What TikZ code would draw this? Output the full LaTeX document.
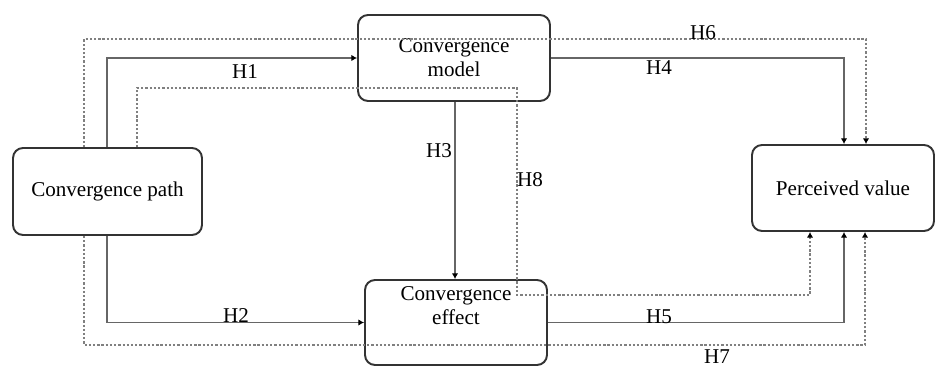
\documentclass[tikz,border=0pt]{standalone}
\usepackage{fontspec}
\setmainfont{Liberation Serif}
\usetikzlibrary{arrows.meta}

\begin{document}
\begin{tikzpicture}[x=0.02cm, y=-0.02cm, font=\fontsize{12}{13.7}\selectfont,
    >={Latex[length=3.2pt,width=3.6pt,black]},
    box/.style={draw=black!80, line width=1.1pt, rounded corners=0.2cm, align=center, inner sep=0pt},
    link/.style={draw=black!60, line width=.6pt},
    dotlink/.style={draw=black!50, line width=.6pt, dash pattern=on 1.3pt off 1.1pt}]
    \useasboundingbox (0,0) rectangle (936,367);
    % constructs
    \node[box, minimum width=3.78cm, minimum height=1.74cm] (path) at (107.5,191.5) {Convergence path};
    \node[box, minimum width=3.84cm, minimum height=1.72cm] (model) at (454,58) {Convergence\\model};
    \node[box, minimum width=3.64cm, minimum height=1.70cm] (effect) at (456,322.5) {};
    \node[align=center] (efftext) at (456,306) {Convergence\\effect};
    \node[box, minimum width=3.64cm, minimum height=1.72cm] (value) at (843,188) {Perceived value};
    % direct paths
    \draw[link,->] (path.north -| 107,0) |- (model.west);
    \draw[link,->] (path.south -| 107,0) |- (effect.west);
    \draw[link,->] (model.south -| 455,0) -- (effect.north -| 455,0);
    \draw[link,->] (model.east) -| (value.north -| 844,0);
    \draw[link,->] (effect.east) -| (value.south -| 844,0);
    % indirect paths
    \draw[dotlink,->] (path.north -| 84,0) -- (84,39) -| (value.north -| 866,0);
    \draw[dotlink,->] (path.south -| 84,0) -- (84,345) -| (value.south -| 865,0);
    \draw[dotlink,->] (path.north -| 137,0) -- (137,88) -| (517,295) -| (value.south -| 810,0);
    % hypotheses
    \node (h1) at (245,72) {H1};
    \node (h2) at (236,316) {H2};
    \node (h3) at (439,151) {H3};
    \node (h4) at (659,68) {H4};
    \node (h5) at (659,317) {H5};
    \node (h6) at (703,33) {H6};
    \node (h7) at (717,357) {H7};
    \node (h8) at (530,180) {H8};
\end{tikzpicture}
\end{document}
